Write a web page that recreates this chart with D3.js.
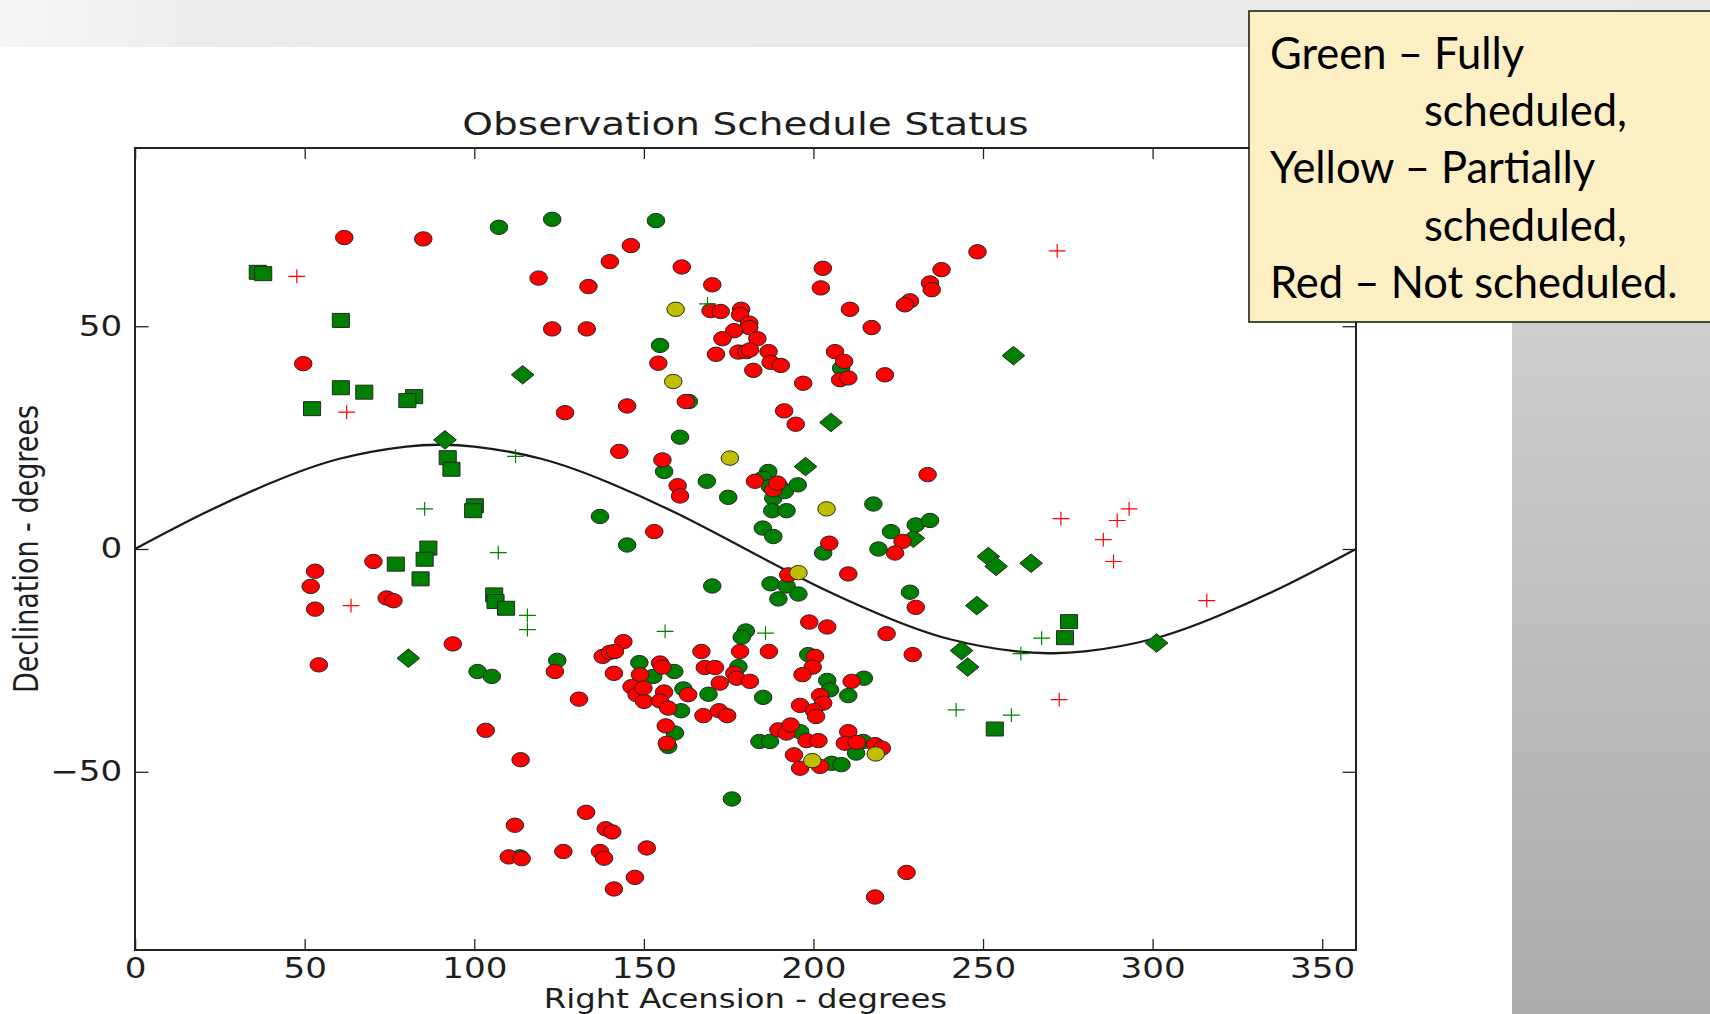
<!DOCTYPE html>
<html>
<head>
<meta charset="utf-8">
<script src="https://cdn.jsdelivr.net/npm/d3@7"></script>
<style>
  html, body { margin: 0; padding: 0; background: #fff; overflow: hidden; }
  svg { display: block; }
</style>
</head>
<body>
<div id="chart"></div>
<script>
// Target positions [right ascension, declination], one list per status/marker
const greenSquares = [
    [36.2, 62.1], [37.8, 61.8], [60.7, 51.3], [60.7, 36.2], [67.6, 35.2], [82.3, 34.2],
    [80.3, 33.3], [52.2, 31.5], [92.2, 20.5], [93.3, 17.9], [100.2, 9.7], [99.7, 8.6],
    [86.5, 0.2], [85.4, -2.3], [76.9, -3.4], [84.2, -6.7], [105.9, -10.3], [106.3, -11.8],
    [109.4, -13.3], [275.4, -16.3], [274.2, -19.9], [253.5, -40.4]
];
const greenDiamonds = [
    [114.3, 39.1], [91.4, 24.5], [80.6, -24.5], [205.2, 28.4], [197.7, 18.5], [229.5, 2.4],
    [259.0, 43.4], [251.6, -1.7], [253.9, -3.9], [264.2, -3.2], [248.2, -12.7], [243.7, -22.8],
    [245.5, -26.5], [301.2, -21.1]
];
const redPluses = [
    [47.7, 61.2], [62.4, 30.7], [63.7, -12.7], [271.9, 66.9], [273.0, 6.8], [285.5, 2.1],
    [289.6, 6.4], [293.1, 9.0], [288.5, -2.8], [316.0, -11.6], [272.5, -33.8]
];
const greenPluses = [
    [112.2, 20.8], [85.4, 9.0], [107.1, -0.8], [115.7, -14.9], [115.7, -18.1], [168.8, 55.0],
    [156.3, -18.5], [185.9, -18.9], [242.1, -36.1], [258.4, -37.3], [267.3, -20.0], [261.2, -23.5]
];
const yellowCircles = [
    [159.4, 53.8], [158.7, 37.6], [175.4, 20.4], [203.9, 9.0], [195.6, -5.3], [199.7, -47.5],
    [218.4, -46.0]
];
const greenCircles = [
    [107.3, 72.2], [123.0, 74.0], [153.6, 73.7], [154.8, 45.7], [163.3, 33.1], [160.7, 25.1],
    [156.0, 17.4], [168.6, 15.2], [174.9, 11.6], [186.7, 17.4], [185.2, 15.9], [187.2, 14.0],
    [190.1, 14.0], [188.2, 11.4], [191.6, 12.9], [195.4, 14.4], [187.9, 8.6], [192.1, 8.6],
    [217.7, 10.1], [137.1, 7.3], [145.1, 0.9], [185.1, 4.7], [188.2, 2.8], [222.9, 3.9],
    [230.2, 5.4], [234.4, 6.4], [219.2, 0.0], [202.9, -0.9], [208.2, 40.6], [170.2, -8.3],
    [187.4, -7.8], [192.1, -8.3], [189.7, -11.2], [195.6, -10.1], [228.5, -9.7], [180.1, -18.4],
    [178.9, -19.8], [124.5, -25.0], [101.0, -27.5], [105.2, -28.6], [113.5, -69.1], [148.7, -25.5],
    [159.0, -27.5], [152.8, -28.6], [161.0, -36.3], [161.7, -31.4], [159.2, -41.3], [157.2, -44.3],
    [169.1, -32.6], [177.9, -26.4], [185.2, -33.3], [198.5, -23.7], [204.1, -29.5], [204.9, -31.6],
    [214.9, -29.0], [210.3, -32.9], [196.1, -41.0], [184.1, -43.2], [187.2, -43.2], [205.4, -48.1],
    [208.3, -48.4], [214.7, -43.2], [212.6, -45.8], [176.0, -56.1]
];
const redCircles = [
    [61.7, 69.9], [85.0, 69.6], [119.0, 60.8], [123.0, 49.4], [133.2, 49.4], [49.6, 41.6],
    [146.2, 68.1], [140.0, 64.5], [161.2, 63.3], [133.7, 58.9], [170.2, 59.3], [169.7, 53.5],
    [172.7, 53.3], [178.7, 53.8], [178.4, 52.6], [181.1, 50.7], [181.1, 49.7], [176.7, 49.0],
    [183.5, 47.2], [173.2, 47.2], [171.3, 43.7], [177.9, 44.2], [180.3, 44.3], [181.3, 44.7],
    [186.8, 44.3], [187.4, 41.9], [190.4, 41.2], [182.3, 40.1], [197.0, 37.2], [202.8, 63.0],
    [202.2, 58.6], [210.8, 53.8], [217.2, 49.7], [237.8, 62.7], [234.4, 59.7], [234.9, 58.2],
    [228.5, 55.7], [227.0, 54.8], [248.4, 66.7], [206.4, 44.3], [209.1, 42.1], [207.9, 38.0],
    [210.3, 38.4], [221.1, 39.1], [154.3, 41.7], [162.4, 33.1], [126.8, 30.6], [145.1, 32.1],
    [191.4, 31.0], [194.8, 28.0], [142.8, 21.9], [155.5, 20.0], [160.0, 14.2], [160.7, 11.9],
    [182.8, 15.2], [188.2, 13.3], [189.4, 14.8], [233.7, 16.7], [153.1, 3.9], [204.7, 1.3],
    [226.3, 1.7], [224.1, -0.9],
    [53.1, -5.0], [51.8, -8.4], [53.1, -13.5], [70.3, -2.8], [74.2, -11.0], [76.2, -11.6],
    [93.7, -21.3], [54.2, -26.0], [123.8, -27.5], [103.4, -40.7], [113.7, -47.3], [112.0, -62.0],
    [110.2, -69.1], [114.0, -69.5], [126.3, -67.9], [133.0, -59.1], [138.8, -62.8], [140.7, -63.5],
    [137.1, -67.9], [138.3, -69.4], [150.9, -67.1], [147.4, -73.7], [141.2, -76.3], [218.2, -78.1],
    [227.5, -72.6],
    [192.6, -5.8], [210.3, -5.6], [230.2, -13.1], [198.8, -16.4], [204.1, -17.5], [221.6, -19.0],
    [229.3, -23.7], [167.0, -23.0], [178.4, -23.0], [186.9, -23.0], [144.0, -20.8], [137.9, -24.1],
    [140.0, -23.2], [141.5, -23.0], [141.2, -27.9], [130.9, -33.7],
    [154.8, -25.6], [155.5, -26.5], [148.9, -28.2], [146.4, -30.9], [147.9, -32.7], [150.1, -34.2],
    [149.9, -31.2], [156.0, -32.1], [154.8, -34.1], [157.2, -35.7], [163.1, -32.7], [156.5, -39.7],
    [156.8, -43.6], [167.6, -37.4], [172.2, -36.3], [174.6, -37.4], [168.0, -26.6], [171.0, -26.6],
    [172.4, -30.1], [176.7, -27.9], [177.4, -29.0], [181.3, -29.7], [200.5, -24.1], [199.8, -26.5],
    [196.8, -28.2], [211.3, -29.7], [202.0, -32.9], [202.9, -34.6], [196.1, -35.1], [200.2, -36.3],
    [200.8, -37.6], [189.7, -40.6], [192.1, -41.3], [193.3, -39.5], [198.0, -43.0], [201.5, -43.0],
    [194.3, -46.2], [196.1, -49.2], [202.0, -48.8], [210.3, -41.0], [209.3, -43.6], [212.8, -43.4],
    [218.2, -43.9], [220.2, -44.7]
];

// Ecliptic line
const curveRA  = [0, 20, 40, 60, 80, 90, 100, 120, 140, 160, 180, 200, 220, 240, 260, 270, 280, 300, 320, 340, 360];
const curveDec = [0, 7.9, 14.8, 20.2, 23.0, 23.4, 23.0, 20.2, 14.8, 7.9, 0, -7.9, -14.8, -20.2, -23.0, -23.4, -23.0, -20.2, -14.8, -7.9, 0];

// Axis ticks and texts
const xTicks = [0, 50, 100, 150, 200, 250, 300, 350];
const yTicks = [-50, 0, 50];
const chartTitle = "Observation Schedule Status";
const xLabel = "Right Acension - degrees";
const yLabel = "Declination - degrees";
const legendLines = ["Green \u2013 Fully", "scheduled,", "Yellow \u2013 Partially", "scheduled,", "Red \u2013 Not scheduled."];
const legendIndent = [0, 1, 0, 1, 0];

drawPage();

function drawPage()
{
    const W = 1710, H = 1014;
    // the old figure is stretched sideways on the slide
    const k = 1.22;

    const svg = d3.select("#chart").append("svg")
        .attr("width", W)
        .attr("height", H);

    const defs = svg.append("defs");
    const band = defs.append("linearGradient").attr("id", "bandGrad")
        .attr("x1", "0").attr("x2", "1").attr("y1", "0").attr("y2", "0");
    band.append("stop").attr("offset", "0").attr("stop-color", "#f6f6f6");
    band.append("stop").attr("offset", "0.12").attr("stop-color", "#ececec");
    band.append("stop").attr("offset", "1").attr("stop-color", "#e9e9e9");

    const panel = defs.append("linearGradient").attr("id", "panelGrad")
        .attr("x1", "0").attr("x2", "0").attr("y1", "0").attr("y2", "1");
    panel.append("stop").attr("offset", "0").attr("stop-color", "#dcdcdc");
    panel.append("stop").attr("offset", "1").attr("stop-color", "#ababab");

    // Slide background pieces
    svg.append("rect").attr("x", 0).attr("y", 0).attr("width", W).attr("height", 47)
        .attr("fill", "url(#bandGrad)");
    svg.append("rect").attr("x", 1512).attr("y", 47).attr("width", W - 1512).attr("height", H - 47)
        .attr("fill", "url(#panelGrad)");

    // Chart group, drawn in unstretched units
    const g = svg.append("g").attr("transform", `scale(${k},1)`);

    const x = d3.scaleLinear().domain([0, 360]).range([135 / k, 1356 / k]);
    const y = d3.scaleLinear().domain([-90, 90]).range([950, 148]);

    g.append("rect")
        .attr("x", x(0)).attr("y", y(90))
        .attr("width", x(360) - x(0)).attr("height", y(-90) - y(90))
        .attr("fill", "#fff");

    // Ecliptic curve
    const line = d3.line()
        .x((d) => x(d[0]))
        .y((d) => y(d[1]))
        .curve(d3.curveNatural);

    g.append("path")
        .datum(curveRA.map((ra, i) => [ra, curveDec[i]]))
        .attr("d", line)
        .attr("fill", "none")
        .attr("stroke", "#1a1a1a")
        .attr("stroke-width", 2.3)
        .attr("vector-effect", "non-scaling-stroke");

    const edge = "#262626";

    // Squares
    g.selectAll(".sq")
        .data(greenSquares)
        .enter()
        .append("rect")
        .attr("class", "sq")
        .attr("x", (d) => x(d[0]) - 7)
        .attr("y", (d) => y(d[1]) - 7)
        .attr("width", 14)
        .attr("height", 14)
        .attr("fill", "#008000")
        .attr("stroke", edge)
        .attr("stroke-width", 1)
        .attr("vector-effect", "non-scaling-stroke");

    // Diamonds
    const dr = 9.3;
    g.selectAll(".dm")
        .data(greenDiamonds)
        .enter()
        .append("path")
        .attr("class", "dm")
        .attr("d", (d) => {
            const cx = x(d[0]), cy = y(d[1]);
            return `M${cx},${cy - dr}L${cx + dr},${cy}L${cx},${cy + dr}L${cx - dr},${cy}Z`;
        })
        .attr("fill", "#008000")
        .attr("stroke", edge)
        .attr("stroke-width", 1)
        .attr("vector-effect", "non-scaling-stroke");

    // Circles: green, then red, then yellow on top
    const circleSets = [
        {data: greenCircles, color: "#008000"},
        {data: redCircles, color: "#ff0000"},
        {data: yellowCircles, color: "#bfbf00"}
    ];
    circleSets.forEach((set, si) =>
    {
        g.selectAll(".c" + si)
            .data(set.data)
            .enter()
            .append("circle")
            .attr("class", "c" + si)
            .attr("cx", (d) => x(d[0]))
            .attr("cy", (d) => y(d[1]))
            .attr("r", 7.2)
            .attr("fill", set.color)
            .attr("stroke", edge)
            .attr("stroke-width", 1)
            .attr("vector-effect", "non-scaling-stroke");
    });

    // Plus markers
    const pr = 6.9;
    const plusSets = [
        {data: redPluses, color: "#ff0000"},
        {data: greenPluses, color: "#008000"}
    ];
    plusSets.forEach((set, si) =>
    {
        g.selectAll(".p" + si)
            .data(set.data)
            .enter()
            .append("path")
            .attr("class", "p" + si)
            .attr("d", (d) => {
                const cx = x(d[0]), cy = y(d[1]);
                return `M${cx - pr},${cy}H${cx + pr}M${cx},${cy - pr}V${cy + pr}`;
            })
            .attr("fill", "none")
            .attr("stroke", set.color)
            .attr("stroke-width", 1.2)
            .attr("vector-effect", "non-scaling-stroke");
    });

    // Axes with inward ticks on all four sides
    const tickLen = 11;
    const fmt = (d) => d < 0 ? "\u2212" + Math.abs(d) : String(d);

    g.append("g")
        .attr("transform", `translate(0,${y(-90)})`)
        .call(d3.axisBottom(x).tickValues(xTicks).tickSizeInner(-tickLen).tickSizeOuter(0)
            .tickPadding(8).tickFormat(fmt));
    g.append("g")
        .attr("transform", `translate(0,${y(90)})`)
        .call(d3.axisTop(x).tickValues(xTicks).tickSizeInner(-tickLen).tickSizeOuter(0)
            .tickFormat(""));
    g.append("g")
        .attr("transform", `translate(${x(0)},0)`)
        .call(d3.axisLeft(y).tickValues(yTicks).tickSizeInner(-tickLen).tickSizeOuter(0)
            .tickPadding(10.5).tickFormat(fmt));
    g.append("g")
        .attr("transform", `translate(${x(360)},0)`)
        .call(d3.axisRight(y).tickValues(yTicks).tickSizeInner(-tickLen).tickSizeOuter(0)
            .tickFormat(""));

    g.selectAll(".domain").remove();
    g.selectAll(".tick line")
        .attr("stroke", "#222")
        .attr("stroke-width", 1.3)
        .attr("vector-effect", "non-scaling-stroke");
    g.selectAll(".tick text")
        .attr("fill", "#1e1e1e")
        .style("font-family", "'DejaVu Sans', sans-serif")
        .style("font-size", "28px");

    // Spines
    g.append("rect")
        .attr("x", x(0)).attr("y", y(90))
        .attr("width", x(360) - x(0)).attr("height", y(-90) - y(90))
        .attr("fill", "none")
        .attr("stroke", "#222")
        .attr("stroke-width", 2)
        .attr("vector-effect", "non-scaling-stroke");

    // Title and axis labels
    g.append("text")
        .attr("x", (x(0) + x(360)) / 2)
        .attr("y", 135)
        .attr("text-anchor", "middle")
        .style("font-family", "'DejaVu Sans', sans-serif")
        .style("font-size", "32px")
        .attr("fill", "#1e1e1e")
        .text(chartTitle);

    g.append("text")
        .attr("x", (x(0) + x(360)) / 2)
        .attr("y", 1008)
        .attr("text-anchor", "middle")
        .style("font-family", "'DejaVu Sans', sans-serif")
        .style("font-size", "26.5px")
        .attr("fill", "#1e1e1e")
        .text(xLabel);

    g.append("text")
        .attr("transform", `translate(${38 / k},${(y(90) + y(-90)) / 2}) rotate(-90)`)
        .attr("text-anchor", "middle")
        .style("font-family", "'DejaVu Sans', sans-serif")
        .style("font-size", "27px")
        .attr("fill", "#1e1e1e")
        .text(yLabel);

    // Note box from the slide
    svg.append("rect")
        .attr("x", 1249).attr("y", 11)
        .attr("width", 480).attr("height", 311)
        .attr("fill", "#fdefc4")
        .attr("stroke", "#111")
        .attr("stroke-width", 1.5);

    svg.selectAll(".note")
        .data(legendLines)
        .enter()
        .append("text")
        .attr("class", "note")
        .attr("x", (d, i) => 1270 + legendIndent[i] * 154)
        .attr("y", (d, i) => 69 + i * 57.2)
        .style("font-family", "Lato, 'Open Sans', sans-serif")
        .style("font-size", "43.5px")
        .attr("fill", "#000")
        .text((d) => d);
}
</script>
</body>
</html>
